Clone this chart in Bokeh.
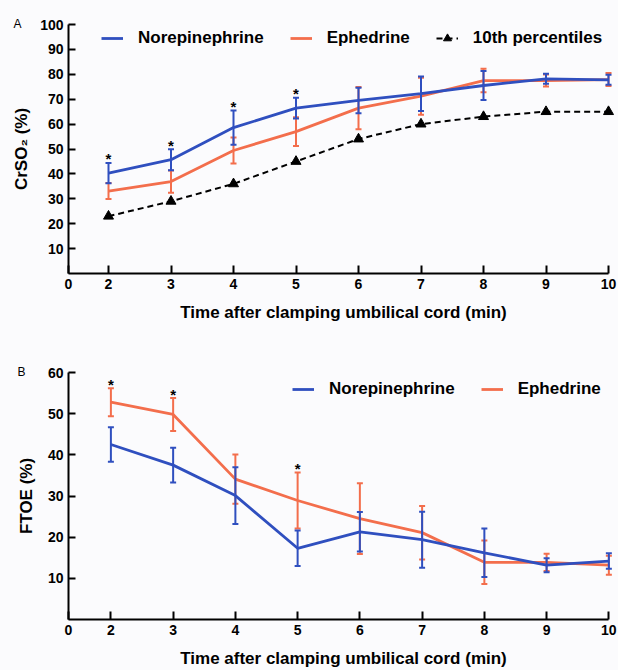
from bokeh.plotting import figure
from bokeh.models import Range1d, FixedTicker, Legend, LegendItem, ColumnDataSource
from bokeh.layouts import column
from bokeh.core.properties import value
from bokeh.embed import file_html
from bokeh.resources import INLINE

# ---------------- data ----------------
times = [2, 3, 4, 5, 6, 7, 8, 9, 10]
x_tick_values = [2, 3, 4, 5, 6, 7, 8, 9, 10]
x_origin_label = "0"

# Panel A: CrSO2 (%)
crso2_ne_mean = [40.3, 45.7, 58.6, 66.4, 69.5, 72.2, 75.5, 78.2, 77.8]
crso2_ne_sd = [4.1, 4.2, 6.9, 4.2, 5.1, 6.9, 5.8, 2.0, 2.0]
crso2_ep_mean = [33.1, 36.9, 49.4, 57.0, 66.4, 71.2, 77.5, 77.5, 77.9]
crso2_ep_sd = [3.2, 4.5, 5.2, 5.8, 8.5, 7.4, 4.7, 2.4, 2.6]
crso2_p10 = [23, 29, 36, 45, 54, 60, 63, 65, 65]
crso2_sig_times = [2, 3, 4, 5]
crso2_ticks = [10, 20, 30, 40, 50, 60, 70, 80, 90, 100]

# Panel B: FTOE (%)
ftoe_ne_mean = [42.5, 37.5, 30.1, 17.3, 21.3, 19.4, 16.2, 13.2, 14.2]
ftoe_ne_sd = [4.2, 4.2, 6.9, 4.3, 4.8, 6.8, 5.9, 1.7, 1.9]
ftoe_ep_mean = [52.8, 49.8, 34.1, 28.9, 24.5, 21.1, 13.9, 13.9, 13.2]
ftoe_ep_sd = [3.4, 4.0, 6.0, 6.8, 8.6, 6.5, 5.3, 2.1, 2.3]
ftoe_sig_times = [2, 3, 5]
ftoe_ticks = [10, 20, 30, 40, 50, 60]

series_names = ["Norepinephrine", "Ephedrine", "10th percentiles"]
panel_letters = ["A", "B"]
x_title = "Time after clamping umbilical cord (min)"
y_titles = ["CrSO\u2082 (%)", "FTOE (%)"]

# ---------------- style ----------------
BLUE = "#2f4fbf"
ORANGE = "#f36e4c"
BG = "#fbfbfd"
FONT = "Liberation Sans"
FONT_V = value(FONT)


def err_source(mean, sd):
    lo = [m - s for m, s in zip(mean, sd)]
    hi = [m + s for m, s in zip(mean, sd)]
    return ColumnDataSource(dict(x=times, y=mean, lo=lo, hi=hi))


def add_series(p, mean, sd, color):
    src = err_source(mean, sd)
    ln = p.line("x", "y", source=src, line_color=color, line_width=2.8)
    p.segment("x", "lo", "x", "hi", source=src, line_color=color, line_width=2)
    p.scatter("x", "lo", source=src, marker="dash", size=6, line_color=color, line_width=2)
    p.scatter("x", "hi", source=src, marker="dash", size=6, line_color=color, line_width=2)
    return ln


def add_stars(p, sig_times, mean, sd):
    ys = [mean[times.index(t)] + sd[times.index(t)] for t in sig_times]
    p.text(x=sig_times, y=ys, text=["*"] * len(sig_times), text_font=FONT_V,
           text_font_style="bold", text_font_size="15px", text_align="center",
           text_baseline="middle", y_offset=-4, text_color="black")


def make_panel(height, x_start, x_end, y_max, yticks, ylabel, letter,
               border_left, border_top, border_bottom, ylab_standoff, xlab_standoff):
    p = figure(width=618, height=height, output_backend="svg", toolbar_location=None,
               x_range=Range1d(x_start, x_end), y_range=Range1d(0, y_max),
               min_border_left=border_left, min_border_right=0,
               min_border_top=border_top, min_border_bottom=border_bottom)
    p.background_fill_color = BG
    p.border_fill_color = BG
    p.outline_line_color = None
    p.grid.visible = False
    for ax in (p.xaxis[0], p.yaxis[0]):
        ax.axis_line_width = 2
        ax.axis_line_color = "black"
        ax.major_tick_line_width = 2
        ax.major_tick_line_color = "black"
        ax.major_tick_out = 0
        ax.minor_tick_line_color = None
        ax.major_label_text_font = FONT
        ax.major_label_text_font_style = "bold"
        ax.major_label_text_font_size = "14px"
        ax.major_label_text_color = "black"
        ax.major_label_standoff = 5
        ax.axis_label_text_font = FONT
        ax.axis_label_text_font_style = "bold"
        ax.axis_label_text_font_size = "17px"
        ax.axis_label_text_color = "black"
    p.xaxis.ticker = FixedTicker(ticks=[x_start] + x_tick_values)
    p.xaxis.major_label_overrides = {x_start: x_origin_label}
    p.xaxis.major_tick_in = 8
    p.xaxis.bounds = (x_start, 10)
    p.xaxis.axis_label = x_title
    p.xaxis.axis_label_standoff = xlab_standoff
    p.yaxis.ticker = FixedTicker(ticks=yticks)
    p.yaxis.major_tick_in = 7
    p.yaxis.axis_label = ylabel
    p.yaxis.axis_label_standoff = ylab_standoff

    p.title.text = letter
    p.title.align = "left"
    p.title.offset = -(border_left - 13)
    p.title.standoff = -12
    p.title.text_font = FONT
    p.title.text_font_style = "normal"
    p.title.text_font_size = "12px"
    p.title.text_color = "black"
    return p


def style_legend(lg):
    lg.label_text_font = FONT
    lg.label_text_font_style = "bold"
    lg.label_text_font_size = "17px"
    lg.label_text_color = "black"
    lg.glyph_width = 22
    lg.glyph_height = 20
    lg.label_standoff = 15
    lg.spacing = 26
    lg.padding = 0
    lg.margin = 0
    lg.border_line_color = None
    lg.background_fill_alpha = 0
    lg.orientation = "horizontal"


# ---------------- panel A ----------------
pA = make_panel(340, 1.36, 10.16, 100, crso2_ticks, y_titles[0], panel_letters[0],
                68, 24, 67, 6, 11)
p10 = ColumnDataSource(dict(x=times, y=crso2_p10))
l10 = pA.line("x", "y", source=p10, line_color="black", line_width=2, line_dash="6 4")
s10 = pA.scatter("x", "y", source=p10, marker="triangle", size=10, color="black")
lepA = add_series(pA, crso2_ep_mean, crso2_ep_sd, ORANGE)
lneA = add_series(pA, crso2_ne_mean, crso2_ne_sd, BLUE)
add_stars(pA, crso2_sig_times, crso2_ne_mean, crso2_ne_sd)
legA = Legend(items=[LegendItem(label=series_names[0], renderers=[lneA]),
                     LegendItem(label=series_names[1], renderers=[lepA]),
                     LegendItem(label=series_names[2], renderers=[l10, s10])],
              location=(33, 225))
style_legend(legA)
pA.add_layout(legA)

# ---------------- panel B ----------------
pB = make_panel(330, 1.319, 10.155, 60, ftoe_ticks, y_titles[1], panel_letters[1],
                64, 32, 49, 9, 11)
lepB = add_series(pB, ftoe_ep_mean, ftoe_ep_sd, ORANGE)
lneB = add_series(pB, ftoe_ne_mean, ftoe_ne_sd, BLUE)
add_stars(pB, ftoe_sig_times, ftoe_ep_mean, ftoe_ep_sd)
legB = Legend(items=[LegendItem(label=series_names[0], renderers=[lneB]),
                     LegendItem(label=series_names[1], renderers=[lepB])],
              location=(224, 220))
style_legend(legB)
pB.add_layout(legB)

layout = column(pA, pB, spacing=0)
layout.styles = {"background-color": BG}
open("out.html", "w").write(file_html(layout, INLINE))
